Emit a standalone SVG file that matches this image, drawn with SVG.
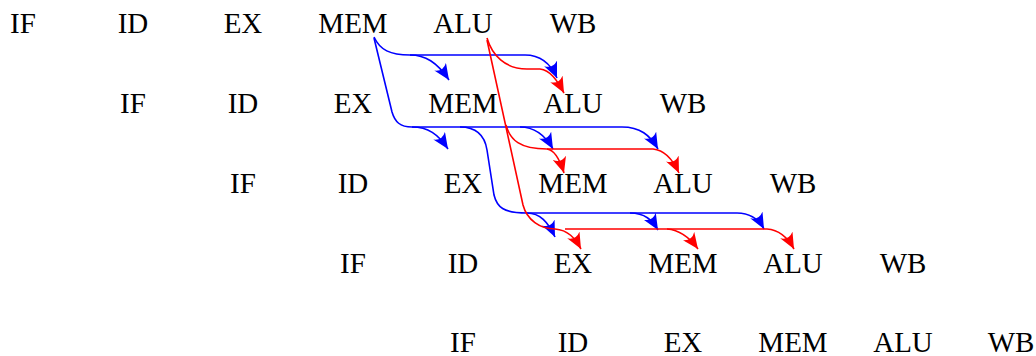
<svg xmlns="http://www.w3.org/2000/svg" width="1036" height="356" viewBox="0 0 1036 356">
<style>
text{font-family:"Liberation Serif","Times New Roman",serif;font-size:29px;fill:#000;text-anchor:middle}
.b{fill:none;stroke:#0000ff;stroke-width:1.6}
.r{fill:none;stroke:#ff0000;stroke-width:1.6}
</style>
<defs>
<marker id="ab" markerUnits="userSpaceOnUse" markerWidth="17" markerHeight="14" refX="16" refY="7" orient="auto"><path d="M0,0 Q6,7 0,14 L16,7 z" fill="#0000ff"/></marker>
<marker id="ar" markerUnits="userSpaceOnUse" markerWidth="17" markerHeight="14" refX="16" refY="7" orient="auto"><path d="M0,0 Q6,7 0,14 L16,7 z" fill="#ff0000"/></marker>
</defs>
<g id="row0">
<g id="n0IF"><text x="23" y="33">IF</text></g>
<g id="n0ID"><text x="133" y="33">ID</text></g>
<g id="n0EX"><text x="243" y="33">EX</text></g>
<g id="n0MEM"><text x="353" y="33">MEM</text></g>
<g id="n0ALU"><text x="463" y="33">ALU</text></g>
<g id="n0WB"><text x="573" y="33">WB</text></g>
</g>
<g id="row1">
<g id="n1IF"><text x="133" y="113">IF</text></g>
<g id="n1ID"><text x="243" y="113">ID</text></g>
<g id="n1EX"><text x="353" y="113">EX</text></g>
<g id="n1MEM"><text x="463" y="113">MEM</text></g>
<g id="n1ALU"><text x="573" y="113">ALU</text></g>
<g id="n1WB"><text x="683" y="113">WB</text></g>
</g>
<g id="row2">
<g id="n2IF"><text x="243" y="193">IF</text></g>
<g id="n2ID"><text x="353" y="193">ID</text></g>
<g id="n2EX"><text x="463" y="193">EX</text></g>
<g id="n2MEM"><text x="573" y="193">MEM</text></g>
<g id="n2ALU"><text x="683" y="193">ALU</text></g>
<g id="n2WB"><text x="793" y="193">WB</text></g>
</g>
<g id="row3">
<g id="n3IF"><text x="353" y="273">IF</text></g>
<g id="n3ID"><text x="463" y="273">ID</text></g>
<g id="n3EX"><text x="573" y="273">EX</text></g>
<g id="n3MEM"><text x="683" y="273">MEM</text></g>
<g id="n3ALU"><text x="793" y="273">ALU</text></g>
<g id="n3WB"><text x="903" y="273">WB</text></g>
</g>
<g id="row4">
<g id="n4IF"><text x="463" y="352">IF</text></g>
<g id="n4ID"><text x="573" y="352">ID</text></g>
<g id="n4EX"><text x="683" y="352">EX</text></g>
<g id="n4MEM"><text x="793" y="352">MEM</text></g>
<g id="n4ALU"><text x="903" y="352">ALU</text></g>
<g id="n4WB"><text x="1011" y="352">WB</text></g>
</g>
<g id="connectors">
<path class="b" d="M374,37 C380,50 390,55 410,55 L525,55 C540,55 550,62 557,78" marker-end="url(#ab)"/>
<path class="b" d="M410,55 C425,55 437,62 449,80" marker-end="url(#ab)"/>
<path class="b" d="M374,38 L392,112 C395,122 400,127 412,127 L622,127 C640,127 650,135 658,149" marker-end="url(#ab)"/>
<path class="b" d="M412,127 C428,127 438,134 448,149" marker-end="url(#ab)"/>
<path class="b" d="M520,127 C535,127 545,135 553,149" marker-end="url(#ab)"/>
<path class="b" d="M460,127 C478,127 485,137 487,150 L494,195 C497,207 503,213 527,213 L737,213 C750,213 758,218 764,229" marker-end="url(#ab)"/>
<path class="b" d="M527,213 C540,213 548,222 555,237" marker-end="url(#ab)"/>
<path class="b" d="M630,213 C645,213 652,220 658,230" marker-end="url(#ab)"/>
<path class="r" d="M487,38 C492,55 505,69 527,69 L540,69 C550,70 557,80 564,93" marker-end="url(#ar)"/>
<path class="r" d="M487,40 L523,205 C527,220 540,229 555,229 C568,230 575,238 581,249" marker-end="url(#ar)"/>
<path class="r" d="M565,229 L767,229 C780,230 788,238 794,249" marker-end="url(#ar)"/>
<path class="r" d="M667,229 C680,230 690,238 698,249" marker-end="url(#ar)"/>
<path class="r" d="M506,125 C510,140 520,149 547,149 C555,150 560,160 564,173" marker-end="url(#ar)"/>
<path class="r" d="M547,149 L653,149 C665,150 673,160 679,173" marker-end="url(#ar)"/>
</g>
</svg>
